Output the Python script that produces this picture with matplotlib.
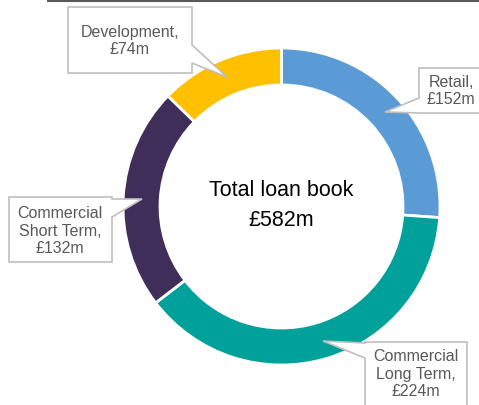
import matplotlib.pyplot as plt
from matplotlib.patches import Polygon

plt.rcParams['font.family'] = ['Liberation Sans', 'DejaVu Sans']

# loan book split, £m
segments = ['Retail', 'Commercial\nLong Term', 'Commercial\nShort Term', 'Development']
amounts = [152, 224, 132, 74]
colours = ['#5B9BD5', '#00A19A', '#3F2D5A', '#FFC000']

W, H = 479, 405


def flip(y):
    # work in pixel-down coordinates, axes are y-up
    return H - y


def callout(ax, box, side, base, tip):
    x0, y0, x1, y1 = box
    pts = [(x0, y0), (x1, y0)]
    if side == 'right':
        pts += [(x1, base[0]), tip, (x1, base[1])]
    pts += [(x1, y1), (x0, y1)]
    if side == 'left':
        pts += [(x0, base[1]), tip, (x0, base[0])]
    poly = Polygon([(x, flip(y)) for x, y in pts], closed=True,
                   facecolor='white', edgecolor='#BFBFBF', linewidth=1.2,
                   zorder=5)
    ax.add_patch(poly)


fig = plt.figure(figsize=(W / 100, H / 100), dpi=100)
ax = fig.add_axes([0, 0, 1, 1])

cx, cy, r = 281.5, 206.5, 158.5
ax.pie(amounts, colors=colours, radius=r, center=(cx, flip(cy)),
       startangle=90, counterclock=False,
       wedgeprops=dict(width=37, edgecolor='white', linewidth=2))

ax.set_xlim(0, W)
ax.set_ylim(0, H)
ax.set_aspect('equal')
ax.axis('off')

# rule across the top
ax.plot([47, W], [flip(0.8), flip(0.8)], color='#595959', lw=1.5,
        solid_capstyle='butt')

ax.text(cx, flip(190), 'Total loan book', ha='center', va='center',
        fontsize=15.5, color='black')
ax.text(cx, flip(221), f'£{sum(amounts)}m', ha='center', va='center',
        fontsize=15.5, color='black')

# label boxes: (box, pointer side, pointer base, pointer tip, text centre)
callouts = [
    ((419, 68, 490, 113), 'left', (98, 113), (385, 112), (451, 91)),
    ((365, 342, 467, 420), 'left', (343, 358), (323, 341), (416, 374)),
    ((9, 197, 112, 262), 'right', (199, 217), (142, 199), (60, 231)),
    ((68, 7, 192, 73), 'right', (45, 63), (227, 77), (130, 41)),
]

for name, val, (box, side, base, tip, (tx, ty)) in zip(segments, amounts, callouts):
    callout(ax, box, side, base, tip)
    ax.text(tx, flip(ty), f'{name},\n£{val}m', ha='center', va='center',
            fontsize=11.5, color='#595959', linespacing=1.22, zorder=6)

fig.savefig('out.png', dpi=100)
